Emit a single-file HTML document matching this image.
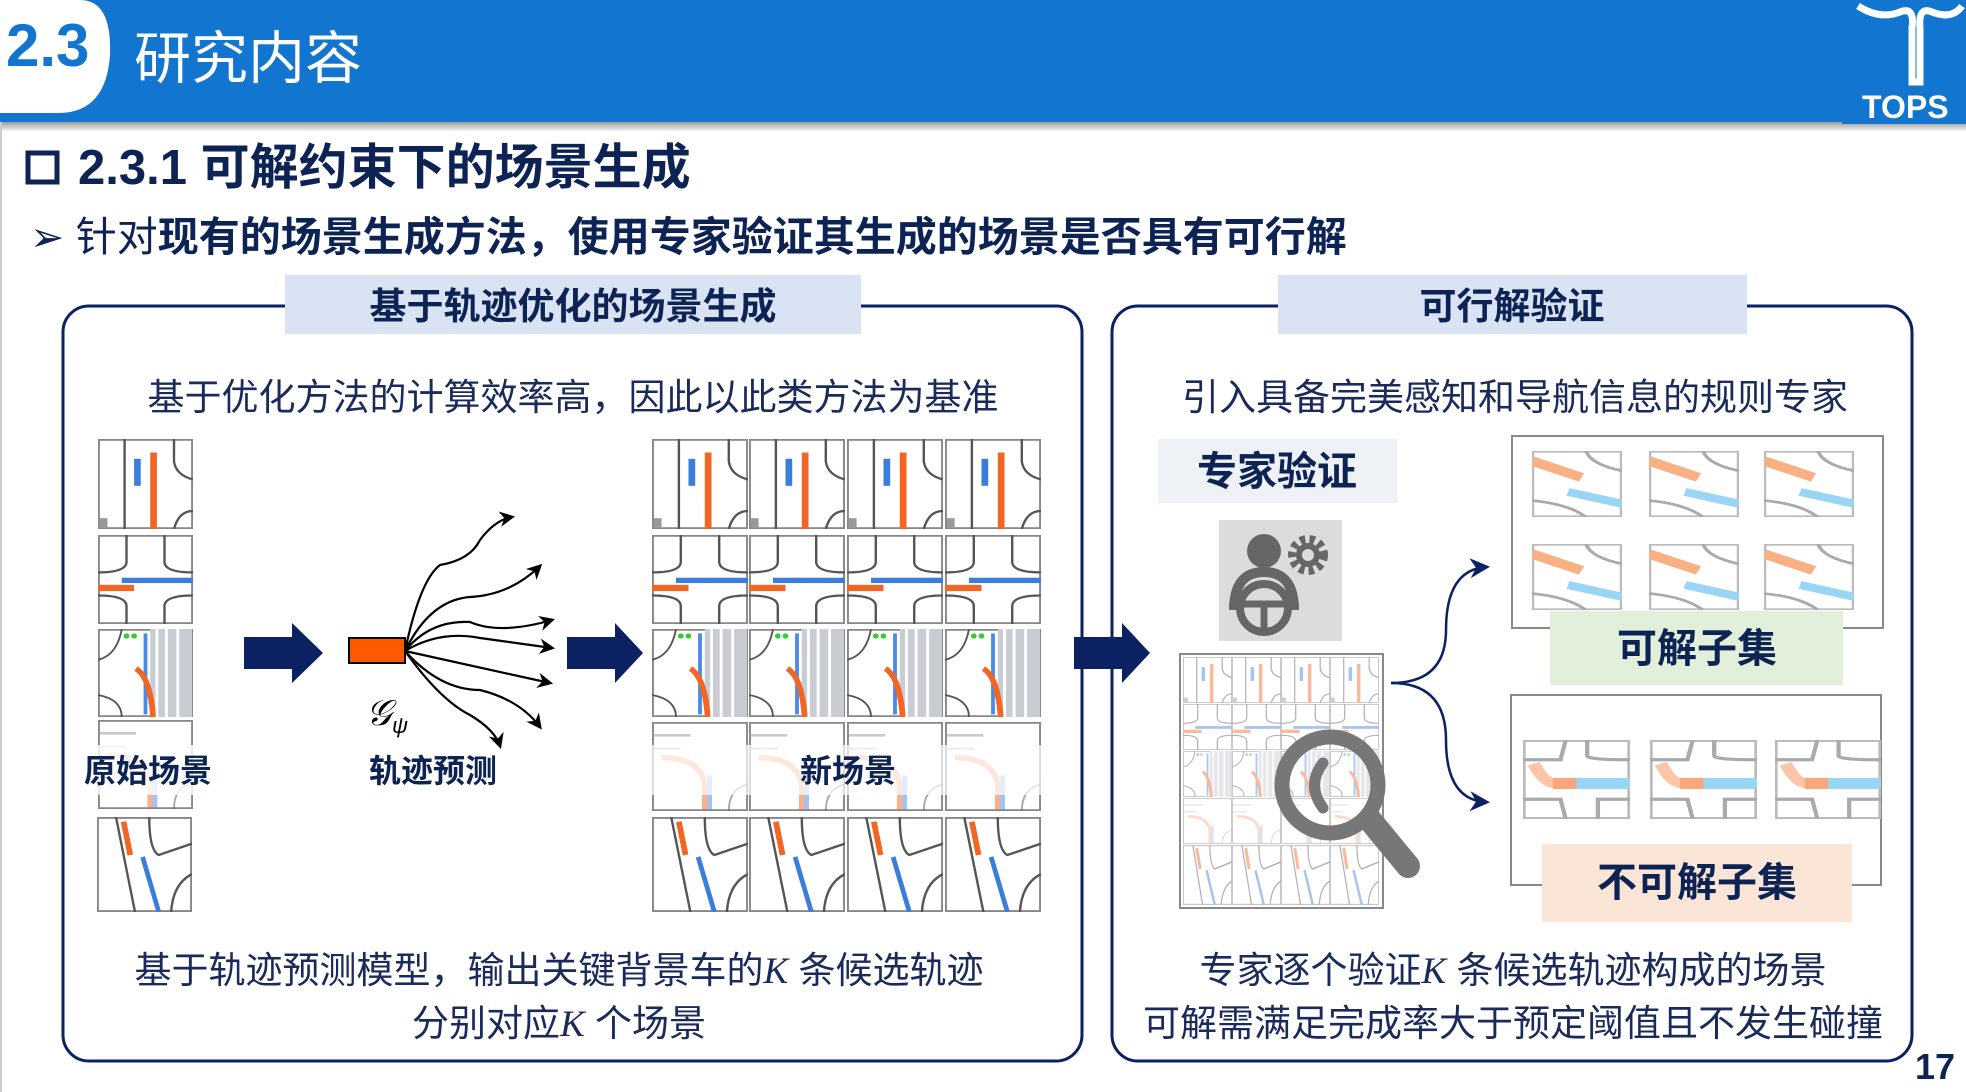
<!DOCTYPE html>
<html><head><meta charset="utf-8"><style>
html,body{margin:0;padding:0;background:#fff;}
svg{display:block}
text{font-family:"Liberation Sans","Noto Sans CJK SC",sans-serif;}
</style></head><body>
<svg width="1966" height="1092" viewBox="0 0 1966 1092" xmlns="http://www.w3.org/2000/svg">
<defs>
<linearGradient id="sh" x1="0" y1="0" x2="0" y2="1"><stop offset="0" stop-color="#999"/><stop offset="1" stop-color="#fff"/></linearGradient>
<symbol id="tA" viewBox="0 0 100 100" preserveAspectRatio="none">
<rect x="1" y="1" width="98" height="98" fill="#fff" stroke="#888" stroke-width="2"/>
<path d="M28 0V100M80 0V25Q82 40 100 45M100 80Q85 80 80 100" fill="none" stroke="#555" stroke-width="2.5"/>
<rect x="55" y="15" width="7" height="85" fill="#f26522"/><rect x="38" y="22" width="7" height="30" fill="#3b7ddd"/><rect x="2" y="88" width="8" height="10" fill="#999"/>
</symbol>
<symbol id="tB" viewBox="0 0 100 100" preserveAspectRatio="none">
<rect x="1" y="1" width="98" height="98" fill="#fff" stroke="#888" stroke-width="2"/>
<path d="M30 0V30Q30 42 0 42M70 0V30Q70 42 100 42M0 68Q30 68 30 80V100M100 68Q70 68 70 80V100" fill="none" stroke="#555" stroke-width="2.5"/>
<rect x="25" y="48" width="75" height="6" fill="#3b7ddd"/><rect x="0" y="56" width="38" height="7" fill="#f26522"/>
</symbol>
<symbol id="tC" viewBox="0 0 100 100" preserveAspectRatio="none">
<rect x="1" y="1" width="98" height="98" fill="#fff" stroke="#888" stroke-width="2"/>
<rect x="55" y="0" width="44" height="100" fill="#c9ccd3"/><path d="M62 0V100M72 0V100M84 0V100" stroke="#fff" stroke-width="3"/>
<path d="M0 35Q20 30 25 0M0 75Q25 80 25 100" fill="none" stroke="#555" stroke-width="2"/>
<rect x="48" y="5" width="4" height="92" fill="#4a8be8"/><path d="M40 45Q55 55 58 100" fill="none" stroke="#f26522" stroke-width="6"/>
<circle cx="30" cy="8" r="3" fill="#3c3"/><circle cx="38" cy="8" r="3" fill="#3c3"/>
</symbol>
<symbol id="tD" viewBox="0 0 100 100" preserveAspectRatio="none">
<rect x="1" y="1" width="98" height="98" fill="#fff" stroke="#888" stroke-width="2"/>
<g opacity=".5"><path d="M0 15H40M0 30H30" stroke="#999" stroke-width="3"/><path d="M10 40Q50 40 55 70V100" fill="none" stroke="#f26522" stroke-width="6"/><path d="M60 60V100" stroke="#4a8be8" stroke-width="5"/><path d="M100 70Q80 75 80 100" fill="none" stroke="#555" stroke-width="2"/></g>
</symbol>
<symbol id="tE" viewBox="0 0 100 100" preserveAspectRatio="none">
<rect x="1" y="1" width="98" height="98" fill="#fff" stroke="#888" stroke-width="2"/>
<path d="M20 0L40 100M55 0Q55 35 65 40L100 28M100 60Q80 70 78 100" fill="none" stroke="#555" stroke-width="2.5"/>
<path d="M28 5L35 40" stroke="#f26522" stroke-width="6"/><path d="M48 42L65 100" stroke="#3b7ddd" stroke-width="5"/>
</symbol>
<symbol id="tS" viewBox="0 0 100 100" preserveAspectRatio="none">
<rect x="1" y="1" width="98" height="98" fill="#fff" stroke="#bbb" stroke-width="3"/>
<path d="M60 0Q65 20 100 30M0 75Q40 80 60 100" fill="none" stroke="#aaa" stroke-width="4"/>
<path d="M0 15L55 40" stroke="#f9b184" stroke-width="14"/><path d="M40 62L100 80" stroke="#9ad5f5" stroke-width="12"/>
</symbol>
<symbol id="tU" viewBox="0 0 100 100" preserveAspectRatio="none">
<rect x="1" y="1" width="98" height="98" fill="#fff" stroke="#bbb" stroke-width="3"/>
<path d="M0 25H35L40 0M60 0V20Q60 25 100 25M0 75H35L40 100M100 75H70V100" fill="none" stroke="#aaa" stroke-width="4"/>
<path d="M10 30Q20 55 30 55" fill="none" stroke="#fbc6a8" stroke-width="12"/><rect x="28" y="48" width="22" height="14" fill="#f9a77a"/><rect x="50" y="48" width="50" height="14" fill="#9ad5f5"/>
</symbol>
<marker id="ah" viewBox="0 0 10 10" refX="8" refY="5" markerWidth="7" markerHeight="7" orient="auto"><path d="M0 0L10 5L0 10L3 5Z" fill="#000"/></marker>
<marker id="an" viewBox="0 0 10 10" refX="8" refY="5" markerWidth="8" markerHeight="8" orient="auto"><path d="M0 0L10 5L0 10L3 5Z" fill="#0b2161"/></marker>
</defs>

<!-- header -->
<rect x="0" y="122" width="1966" height="10" fill="url(#sh)"/>
<rect x="0" y="0" width="1966" height="122" fill="#1276d0"/>
<path d="M0 0H80Q112 0 110 55Q106 112 60 113H0Z" fill="#fff"/>
<text x="6" y="66" font-size="60" font-weight="bold" fill="#1276d0">2.3</text>
<text x="134" y="78" font-size="57" fill="#fff">研究内容</text>
<rect x="1842" y="0" width="124" height="124" fill="#1276d0"/>
<path d="M1858 6Q1880 20 1900 12Q1915 6 1912 28V82H1920V28Q1918 6 1932 12Q1952 20 1962 6" fill="none" stroke="#fff" stroke-width="7"/>
<text x="1862" y="118" font-size="32" font-weight="bold" fill="#fff">TOPS</text>

<!-- title -->
<rect x="28" y="153" width="29" height="29" fill="none" stroke="#0d2354" stroke-width="5"/>
<text x="78" y="184" font-size="49" font-weight="bold" fill="#0d2354">2.3.1 可解约束下的场景生成</text>
<text x="30" y="251" font-size="41" fill="#0d2354">➢ 针对<tspan font-weight="bold">现有的场景生成方法，使用专家验证其生成的场景是否具有可行解</tspan></text>

<!-- boxes -->
<rect x="63" y="306" width="1019" height="755" rx="26" fill="none" stroke="#0b2161" stroke-width="3"/>
<rect x="1112" y="306" width="800" height="755" rx="26" fill="none" stroke="#0b2161" stroke-width="3"/>
<rect x="285" y="275" width="576" height="59" fill="#dae3f3"/>
<text x="573" y="319" font-size="37" font-weight="bold" fill="#0d2354" text-anchor="middle">基于轨迹优化的场景生成</text>
<rect x="1278" y="275" width="469" height="59" fill="#dae3f3"/>
<text x="1512" y="319" font-size="37" font-weight="bold" fill="#0d2354" text-anchor="middle">可行解验证</text>

<text x="573" y="410" font-size="37" fill="#1a2a5a" text-anchor="middle">基于优化方法的计算效率高，因此以此类方法为基准</text>
<text x="1515" y="410" font-size="37" fill="#1a2a5a" text-anchor="middle">引入具备完美感知和导航信息的规则专家</text>

<!-- original tiles -->
<use href="#tA" x="98" y="439" width="95" height="90"/>
<use href="#tB" x="98" y="535" width="95" height="89"/>
<use href="#tC" x="98" y="629" width="95" height="88"/>
<use href="#tD" x="98" y="720" width="95" height="89"/>
<use href="#tE" x="97" y="817" width="95" height="95"/>
<rect x="80" y="745" width="130" height="50" fill="#fff" opacity=".8"/>
<text x="148" y="782" font-size="32" font-weight="bold" fill="#0d2354" text-anchor="middle">原始场景</text>

<!-- arrows -->
<path d="M244 637H292V623L323 653L292 683V669H244Z" fill="#0b2161"/>
<path d="M567 637H615V623L643 653L615 683V669H567Z" fill="#0b2161"/>
<path d="M1074 637H1122V623L1150 653L1122 683V669H1074Z" fill="#0b2161"/>

<!-- fan -->
<g fill="none" stroke="#000" stroke-width="2.2" marker-end="url(#ah)">
<path d="M405 651Q420 580 440 565Q470 560 480 540Q495 520 512 517"/>
<path d="M405 651Q430 600 470 597Q510 595 540 566"/>
<path d="M405 651Q430 620 470 622Q500 635 552 620"/>
<path d="M405 651Q440 630 480 638L552 648"/>
<path d="M405 651L550 683"/>
<path d="M405 651Q440 690 480 690Q520 700 540 727"/>
<path d="M405 651Q440 700 470 715Q495 730 500 746"/>
</g>
<rect x="349" y="638" width="56" height="25" fill="#ff5a00" stroke="#000" stroke-width="2"/>
<text x="366" y="725" font-size="36" font-style="italic" font-family="Liberation Serif,serif" fill="#000">𝒢</text>
<text x="392" y="733" font-size="22" font-style="italic" font-family="Liberation Serif,serif" fill="#000">ψ</text>
<text x="433" y="782" font-size="32" font-weight="bold" fill="#0d2354" text-anchor="middle">轨迹预测</text>

<!-- new tiles -->
<g>
<use href="#tA" x="652" y="439" width="96" height="90"/><use href="#tA" x="749" y="439" width="96" height="90"/><use href="#tA" x="847" y="439" width="96" height="90"/><use href="#tA" x="945" y="439" width="96" height="90"/>
<use href="#tB" x="652" y="535" width="96" height="89"/><use href="#tB" x="749" y="535" width="96" height="89"/><use href="#tB" x="847" y="535" width="96" height="89"/><use href="#tB" x="945" y="535" width="96" height="89"/>
<use href="#tC" x="652" y="629" width="96" height="88"/><use href="#tC" x="749" y="629" width="96" height="88"/><use href="#tC" x="847" y="629" width="96" height="88"/><use href="#tC" x="945" y="629" width="96" height="88"/>
<use href="#tD" x="652" y="722" width="96" height="89"/><use href="#tD" x="749" y="722" width="96" height="89"/><use href="#tD" x="847" y="722" width="96" height="89"/><use href="#tD" x="945" y="722" width="96" height="89"/>
<use href="#tE" x="652" y="817" width="96" height="95"/><use href="#tE" x="749" y="817" width="96" height="95"/><use href="#tE" x="847" y="817" width="96" height="95"/><use href="#tE" x="945" y="817" width="96" height="95"/>
</g>
<rect x="652" y="745" width="389" height="50" fill="#fff" opacity=".7"/>
<text x="848" y="782" font-size="32" font-weight="bold" fill="#0d2354" text-anchor="middle">新场景</text>

<text x="559" y="983" font-size="37" fill="#1a2a5a" text-anchor="middle">基于轨迹预测模型，输出关键背景车的<tspan font-style="italic" font-family="Liberation Serif,serif">K</tspan> 条候选轨迹</text>
<text x="559" y="1036" font-size="37" fill="#1a2a5a" text-anchor="middle">分别对应<tspan font-style="italic" font-family="Liberation Serif,serif">K</tspan> 个场景</text>

<!-- right -->
<rect x="1158" y="439" width="239" height="64" fill="#eef2f7"/>
<text x="1277" y="485" font-size="40" font-weight="bold" fill="#0d2354" text-anchor="middle">专家验证</text>
<rect x="1219" y="520" width="123" height="121" fill="#dcdcdc"/>
<circle cx="1264" cy="551" r="17" fill="#666"/>
<circle cx="1308" cy="555" r="15" fill="none" stroke="#666" stroke-width="10" stroke-dasharray="5 4"/>
<circle cx="1308" cy="555" r="9" fill="none" stroke="#666" stroke-width="6"/>
<path d="M1234 610Q1234 572 1264 572Q1294 572 1294 610" fill="none" stroke="#666" stroke-width="10"/>
<circle cx="1264" cy="608" r="24" fill="none" stroke="#666" stroke-width="8"/>
<path d="M1242 604H1286M1264 604V630" stroke="#666" stroke-width="7"/>

<rect x="1180" y="654" width="203" height="254" fill="#fff" stroke="#888" stroke-width="2"/>
<g opacity=".45">
<use href="#tA" x="1183" y="657" width="49" height="46"/><use href="#tA" x="1232" y="657" width="49" height="46"/><use href="#tA" x="1281" y="657" width="49" height="46"/><use href="#tA" x="1330" y="657" width="49" height="46"/>
<use href="#tB" x="1183" y="704" width="49" height="46"/><use href="#tB" x="1232" y="704" width="49" height="46"/><use href="#tB" x="1281" y="704" width="49" height="46"/><use href="#tB" x="1330" y="704" width="49" height="46"/>
<use href="#tC" x="1183" y="751" width="49" height="46"/><use href="#tC" x="1232" y="751" width="49" height="46"/><use href="#tC" x="1281" y="751" width="49" height="46"/><use href="#tC" x="1330" y="751" width="49" height="46"/>
<use href="#tD" x="1183" y="798" width="49" height="46"/><use href="#tD" x="1232" y="798" width="49" height="46"/><use href="#tD" x="1281" y="798" width="49" height="46"/><use href="#tD" x="1330" y="798" width="49" height="46"/>
<use href="#tE" x="1183" y="845" width="49" height="60"/><use href="#tE" x="1232" y="845" width="49" height="60"/><use href="#tE" x="1281" y="845" width="49" height="60"/><use href="#tE" x="1330" y="845" width="49" height="60"/>
</g>
<line x1="1370" y1="820" x2="1408" y2="866" stroke="#777" stroke-width="24" stroke-linecap="round"/>
<circle cx="1330" cy="785" r="48" fill="none" stroke="#777" stroke-width="15"/>
<path d="M1323 763Q1306 785 1323 808" fill="none" stroke="#777" stroke-width="11" stroke-linecap="round"/>

<path d="M1391 683Q1446 683 1446 630Q1446 570 1486 567" fill="none" stroke="#0b2161" stroke-width="2.5" marker-end="url(#an)"/>
<path d="M1391 683Q1446 683 1446 740Q1446 800 1486 802" fill="none" stroke="#0b2161" stroke-width="2.5" marker-end="url(#an)"/>

<rect x="1512" y="436" width="371" height="192" fill="#fff" stroke="#888" stroke-width="2"/>
<use href="#tS" x="1532" y="451" width="90" height="66"/><use href="#tS" x="1649" y="451" width="90" height="66"/><use href="#tS" x="1764" y="451" width="90" height="66"/>
<use href="#tS" x="1532" y="544" width="90" height="66"/><use href="#tS" x="1649" y="544" width="90" height="66"/><use href="#tS" x="1764" y="544" width="90" height="66"/>
<rect x="1550" y="611" width="293" height="74" fill="#e2efda"/>
<text x="1697" y="662" font-size="40" font-weight="bold" fill="#0d2354" text-anchor="middle">可解子集</text>

<rect x="1511" y="695" width="370" height="190" fill="#fff" stroke="#888" stroke-width="2"/>
<use href="#tU" x="1523" y="740" width="107" height="79"/><use href="#tU" x="1650" y="740" width="107" height="79"/><use href="#tU" x="1775" y="740" width="106" height="79"/>
<rect x="1542" y="844" width="310" height="78" fill="#fbe5d6"/>
<text x="1697" y="896" font-size="40" font-weight="bold" fill="#0d2354" text-anchor="middle">不可解子集</text>

<text x="1513" y="983" font-size="37" fill="#1a2a5a" text-anchor="middle">专家逐个验证<tspan font-style="italic" font-family="Liberation Serif,serif">K</tspan> 条候选轨迹构成的场景</text>
<text x="1513" y="1036" font-size="37" fill="#1a2a5a" text-anchor="middle">可解需满足完成率大于预定阈值且不发生碰撞</text>

<text x="1935" y="1079" font-size="36" font-weight="bold" fill="#0d2354" text-anchor="middle">17</text>
<line x1="1" y1="122" x2="1" y2="1092" stroke="#ccc" stroke-width="2"/>
</svg>
</body></html>
